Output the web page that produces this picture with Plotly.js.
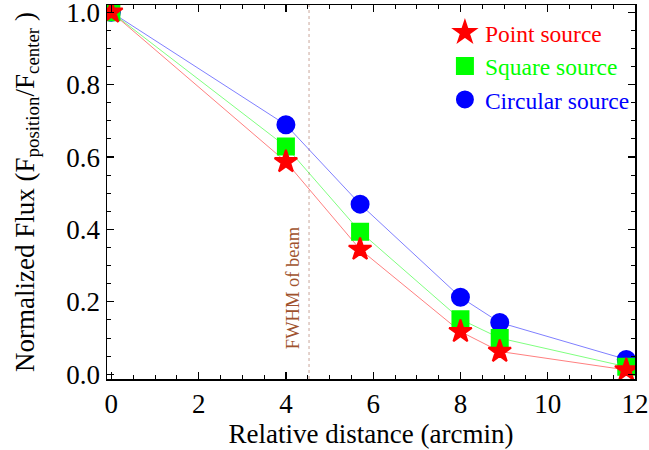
<!DOCTYPE html>
<html>
<head>
<meta charset="utf-8">
<script src="https://cdn.plot.ly/plotly-3.0.1.min.js"></script>
<style>html,body{margin:0;padding:0;background:#fff;}#chart{width:649px;height:450px;}</style>
</head>
<body>
<div id="chart"></div>
<script>
// Data
const distance = [0, 4.0, 5.7, 8.0, 8.9, 11.8];
const pointFlux = [1.0, 0.587, 0.345, 0.118, 0.063, 0.012];
const squareFlux = [1.0, 0.629, 0.394, 0.152, 0.100, 0.021];
const circularFlux = [1.0, 0.689, 0.470, 0.213, 0.143, 0.041];
const seriesNames = ['Point source', 'Square source', 'Circular source'];
const fwhmBeam = 4.53;
const fwhmLabel = 'FWHM of beam';

const FONT = 'Liberation Serif';

function lineTrace(y, color) {
  return {x: distance, y: y, mode: 'lines', type: 'scatter', showlegend: false,
    line: {color: color, width: 1}, hoverinfo: 'skip'};
}
function markerTrace(y, name, color, symbol, size, rank) {
  return {x: distance, y: y, mode: 'markers', type: 'scatter', legendrank: rank,
    name: '<span style="color:' + color + '">' + name + '</span>',
    marker: {color: color, symbol: symbol, size: size, line: {width: 2, color: color}}};
}

const data = [
  lineTrace(circularFlux, 'rgba(0,0,255,0.5)'),
  lineTrace(squareFlux, 'rgba(0,255,0,0.5)'),
  lineTrace(pointFlux, 'rgba(255,0,0,0.5)'),
  markerTrace(circularFlux, seriesNames[2], '#0000ff', 'circle', 17, 3),
  markerTrace(squareFlux, seriesNames[1], '#00ff00', 'square', 16, 2),
  markerTrace(pointFlux, seriesNames[0], '#ff0000', 'star', 17, 1)
];

const axisCommon = {
  showgrid: false, zeroline: false, showline: true, linecolor: '#000', linewidth: 1.5,
  mirror: 'allticks', ticks: 'inside', ticklen: 7, tickwidth: 1.2, tickcolor: '#000',
  ticklabeloverflow: 'allow',
  tickfont: {family: FONT, size: 27, color: '#000'}
};

const layout = {
  width: 649, height: 450,
  margin: {l: 107, r: 14, t: 5, b: 71},
  paper_bgcolor: '#fff', plot_bgcolor: '#fff',
  font: {family: FONT, color: '#000'},
  xaxis: Object.assign({}, axisCommon, {
    range: [-0.1, 12], dtick: 2, tick0: 0,
    minor: {dtick: 0.5, ticks: 'inside', ticklen: 4, tickcolor: '#000', tickwidth: 1},
    title: {text: 'Relative distance (arcmin)', font: {family: FONT, size: 27, color: '#000'}, standoff: 4}
  }),
  yaxis: Object.assign({}, axisCommon, {
    range: [-0.013, 1.02], dtick: 0.2, tick0: 0, tickformat: '.1f',
    minor: {dtick: 0.05, ticks: 'inside', ticklen: 4, tickcolor: '#000', tickwidth: 1},
    title: {text: 'Normalized Flux (F<sub>position</sub>/F<sub>center</sub> )', font: {family: FONT, size: 27, color: '#000'}, standoff: 24}
  }),
  legend: {
    x: 0.64, y: 0.985, xanchor: 'left', yanchor: 'top',
    bgcolor: 'rgba(0,0,0,0)', borderwidth: 0,
    font: {family: FONT, size: 23.5}, itemsizing: 'trace'
  },
  shapes: [{
    type: 'line', xref: 'x', yref: 'paper', x0: fwhmBeam, x1: fwhmBeam, y0: 0, y1: 1,
    line: {color: '#dcc4bc', width: 1.5, dash: 'dot'}, layer: 'below'
  }],
  annotations: [{
    xref: 'x', yref: 'y', x: fwhmBeam, y: 0.238, xshift: -16,
    text: fwhmLabel, textangle: -90, showarrow: false,
    font: {family: FONT, size: 18.5, color: '#a0522d'}
  }]
};

Plotly.newPlot('chart', data, layout, {displayModeBar: false, staticPlot: true});
</script>
</body>
</html>
